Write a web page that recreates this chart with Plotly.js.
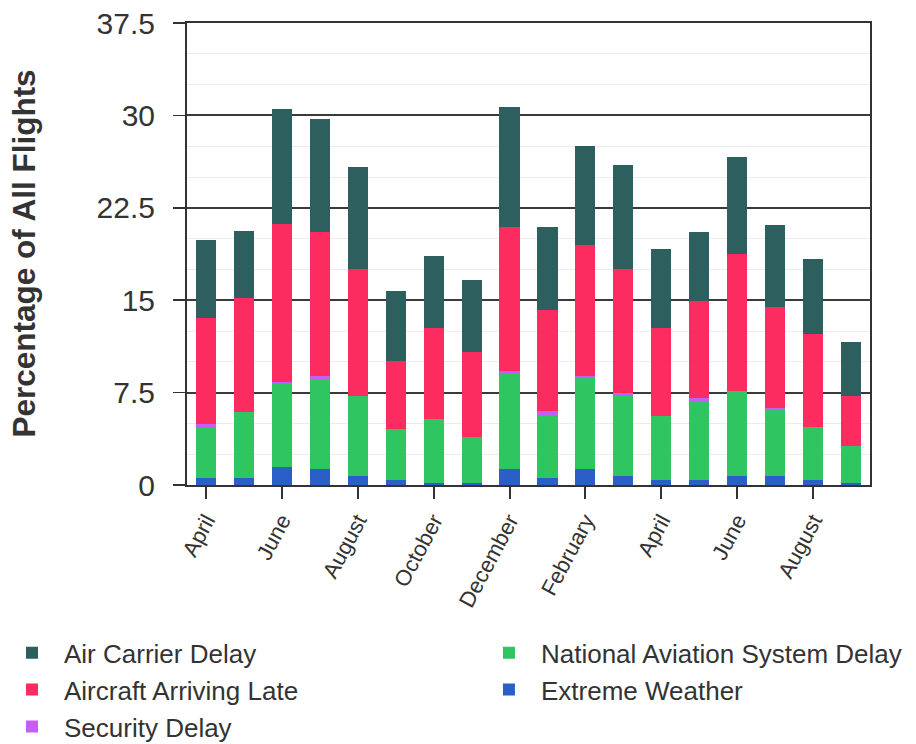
<!DOCTYPE html>
<html>
<head>
<meta charset="utf-8">
<script src="https://cdn.plot.ly/plotly-3.0.1.min.js"></script>
<style>html,body{margin:0;padding:0;background:#fff;}#chart{width:916px;height:744px;}</style>
</head>
<body>
<div id="chart"></div>
<script>
const months = ['April','May','June','July','August','September','October','November','December','January','February','March','April','May','June','July','August','September'];
const airCarrier   = [6.37,5.39,9.29,9.15,8.23,5.69,5.83,5.83,9.74,6.73,8.00,8.42,6.39,5.60,7.85,6.69,6.06,4.38];
const aircraftLate = [8.58,9.26,12.87,11.70,10.32,5.55,7.42,6.90,11.64,8.20,10.70,10.05,7.15,7.85,11.10,8.21,7.51,4.06];
const security     = [0.27,0.05,0.03,0.27,0.03,0.02,0.02,0.02,0.27,0.43,0.05,0.24,0.02,0.30,0.03,0.05,0.02,0.02];
const nas          = [4.13,5.35,6.80,7.31,6.44,4.12,5.14,3.71,7.75,5.03,7.50,6.47,5.20,6.40,6.88,5.41,4.35,2.98];
const weather      = [0.55,0.55,1.50,1.27,0.76,0.37,0.16,0.16,1.27,0.54,1.27,0.76,0.37,0.37,0.76,0.76,0.37,0.16];
const yTicks = [0, 7.5, 15, 22.5, 30, 37.5];
const yTickText = ['0','7.5','15','22.5','30','37.5'];
const yTitle = 'Percentage of All Flights';

const xIdx = months.map((m, i) => i);
const tickIdx = xIdx.filter(i => i % 2 === 0);
const tickLabels = tickIdx.map(i => months[i]);

const series = [
  {name: 'Extreme Weather', y: weather, color: '#2b5ec7', legend: 'legend2', rank: 2},
  {name: 'National Aviation System Delay', y: nas, color: '#2fc560', legend: 'legend2', rank: 1},
  {name: 'Security Delay', y: security, color: '#c55ef6', legend: 'legend', rank: 3},
  {name: 'Aircraft Arriving Late', y: aircraftLate, color: '#fc2c61', legend: 'legend', rank: 2},
  {name: 'Air Carrier Delay', y: airCarrier, color: '#2d5f5f', legend: 'legend', rank: 1}
];

const traces = series.map(s => ({
  type: 'bar', name: s.name, x: xIdx, y: s.y,
  marker: {color: s.color, line: {width: 0}},
  legend: s.legend, legendrank: s.rank, hoverinfo: 'skip'
}));

const font = 'Liberation Sans, Arial, sans-serif';
const legendBase = {
  orientation: 'v', xref: 'container', yref: 'container',
  xanchor: 'left', yanchor: 'top', y: 0.154,
  font: {family: font, size: 26, color: '#333'},
  traceorder: 'normal', itemwidth: 54, bgcolor: 'rgba(0,0,0,0)'
};
const layout = {
  width: 916, height: 744,
  barmode: 'stack', bargap: 0.47,
  paper_bgcolor: '#fff', plot_bgcolor: '#fff',
  margin: {l: 187, r: 46, t: 23, b: 259, autoexpand: false},
  font: {family: font, color: '#333'},
  showlegend: true,
  legend: Object.assign({}, legendBase, {x: 0}),
  legend2: Object.assign({}, legendBase, {x: 0.5207}),
  annotations: [{
    text: yTitle, textangle: -90, showarrow: false,
    xref: 'paper', yref: 'paper', x: -0.2387, y: 0.501,
    xanchor: 'center', yanchor: 'middle',
    font: {family: font, size: 31.5, color: '#333', weight: 'bold'}
  }],
  xaxis: {
    range: [-0.5, months.length - 0.5],
    tickmode: 'array', tickvals: tickIdx, ticktext: tickLabels,
    tickangle: -62, tickfont: {family: font, size: 22, color: '#333'},
    ticks: 'outside', ticklen: 12, tickwidth: 2, tickcolor: '#333',
    showline: true, linecolor: '#333', linewidth: 2, mirror: true,
    showgrid: false, zeroline: false, fixedrange: true
  },
  yaxis: {
    range: [0, 37.5],
    tickmode: 'array', tickvals: yTicks, ticktext: yTickText,
    tickfont: {family: font, size: 30, color: '#333'},
    ticks: 'outside', ticklen: 12, tickwidth: 1.5, tickcolor: '#333',
    ticklabelstandoff: 12,
    showline: true, linecolor: '#333', linewidth: 2, mirror: true,
    showgrid: true, gridcolor: '#3a3a3a', gridwidth: 2,
    minor: {dtick: 2.5, showgrid: true, gridcolor: '#ececec', gridwidth: 1},
    zeroline: false, fixedrange: true
  }
};

Plotly.newPlot('chart', traces, layout, {staticPlot: true, displayModeBar: false});
</script>
</body>
</html>
